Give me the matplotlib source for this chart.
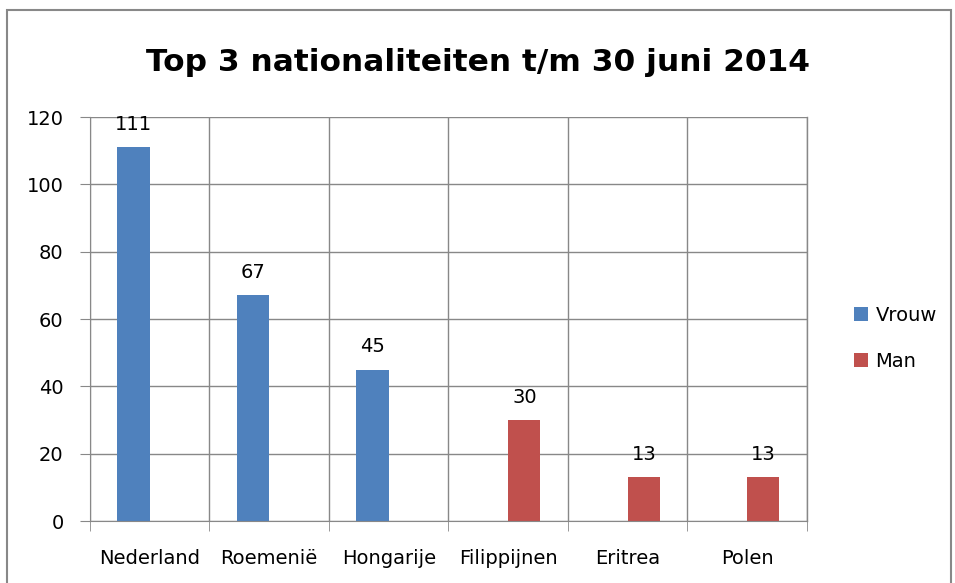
import numpy as np
import matplotlib.pyplot as plt
from matplotlib.patches import Rectangle

# Gegevens
landen = ['Nederland', 'Roemenië', 'Hongarije', 'Filippijnen', 'Eritrea', 'Polen']
vrouw = [111, 67, 45, 0, 0, 0]
man = [0, 0, 0, 30, 13, 13]

blauw = '#4F81BD'
rood = '#C0504D'

fig = plt.figure(figsize=(9.55, 5.83), dpi=100)
ax = fig.add_axes([0.0942, 0.1063, 0.7508, 0.693])

x = np.arange(len(landen))
w = 0.27
b1 = ax.bar(x - w / 2, vrouw, w, color=blauw, label='Vrouw')
b2 = ax.bar(x + w / 2, man, w, color=rood, label='Man')

# Labels boven de balken (alleen waarden > 0)
for bars, vals in ((b1, vrouw), (b2, man)):
    for rect, v in zip(bars, vals):
        if v > 0:
            ax.text(rect.get_x() + rect.get_width() / 2, v + 4, str(v),
                    ha='center', va='bottom', fontsize=14)

ax.set_xlim(-0.5, len(landen) - 0.5)
ax.set_ylim(0, 120)
ax.set_yticks(range(0, 121, 20))
ax.set_xticks(x)
ax.set_xticklabels(landen, fontsize=14)
ax.set_xticks(np.arange(-0.5, len(landen), 1), minor=True)
ax.tick_params(axis='x', which='major', length=0, pad=20)
ax.tick_params(axis='x', which='minor', length=7, color='#888888')
ax.tick_params(axis='y', length=7, color='#888888', labelsize=14, pad=12)

ax.grid(axis='y', color='#888888', linewidth=1)
ax.grid(axis='x', which='minor', color='#888888', linewidth=1)
ax.axvline(len(landen) - 0.5, color='#888888', linewidth=1, clip_on=False, zorder=0.5)
ax.set_axisbelow(True)
for s in ('top', 'right'):
    ax.spines[s].set_visible(False)
for s in ('left', 'bottom'):
    ax.spines[s].set_color('#888888')

fig.text(0.5, 0.893, 'Top 3 nationaliteiten t/m 30 juni 2014',
         ha='center', va='center', fontsize=22.5, fontweight='bold')

fig.legend(loc='center left', bbox_to_anchor=(0.876, 0.42), frameon=False,
           fontsize=14, handlelength=0.7, handleheight=0.7, handletextpad=0.4,
           labelspacing=1.4)

# Grijze rand rond de grafiek
fig.patches.append(Rectangle((7 / 955, -0.1), 944 / 955, 1.1 - 10 / 583,
                             transform=fig.transFigure, fill=False,
                             edgecolor='#888888', linewidth=1.5))

fig.savefig('out.png')
